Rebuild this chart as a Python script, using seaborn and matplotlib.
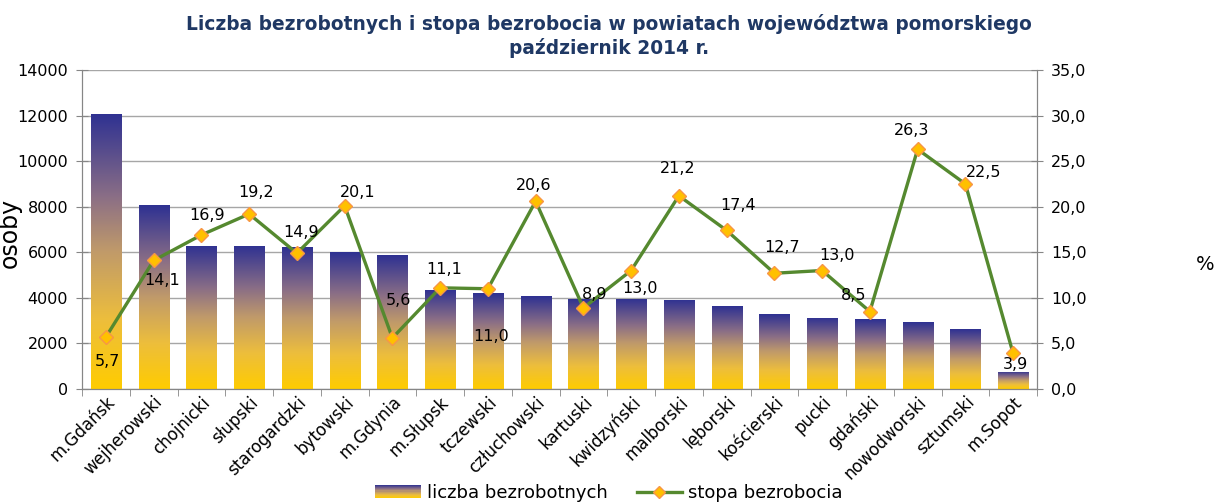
import numpy as np
import matplotlib
matplotlib.use("Agg")
import matplotlib.pyplot as plt
from matplotlib.colors import LinearSegmentedColormap
from matplotlib.patches import Rectangle
from matplotlib.lines import Line2D
from matplotlib.legend_handler import HandlerBase
from matplotlib.ticker import FuncFormatter, FixedLocator
import seaborn as sns

# data
districts = ["m.Gdańsk", "wejherowski", "chojnicki", "słupski", "starogardzki",
             "bytowski", "m.Gdynia", "m.Słupsk", "tczewski", "człuchowski",
             "kartuski", "kwidzyński", "malborski", "lęborski", "kościerski",
             "pucki", "gdański", "nowodworski", "sztumski", "m.Sopot"]
unemployed = [12070, 8060, 6280, 6280, 6220, 6000, 5870, 4350, 4200, 4070,
              3960, 3960, 3910, 3640, 3290, 3120, 3070, 2940, 2630, 750]
rates = [5.7, 14.1, 16.9, 19.2, 14.9, 20.1, 5.6, 11.1, 11.0, 20.6,
         8.9, 13.0, 21.2, 17.4, 12.7, 13.0, 8.5, 26.3, 22.5, 3.9]

# label offsets in pixels (dx, dy up)
label_offsets = [(2, -24), (9, -20), (6, 19), (7, 22), (4, 21), (13, 13), (6, 37),
                 (4, 18), (3, -48), (-2, 16), (11, 13), (9, -18), (-1, 27), (11, 25),
                 (8, 26), (15, 15), (-16, 16), (-6, 19), (18, 11), (2, -11)]

plt.rcParams['font.family'] = ['DejaVu Sans']

grad_cmap = LinearSegmentedColormap.from_list(
    "bars", [(0.0, "#FFCC00"), (0.25, "#EDBE3C"), (0.5, "#C09A6A"),
             (0.7, "#8A6E86"), (1.0, "#2E3192")])
line_color = "#55892F"
grid_color = "#A6A6A6"
spine_color = "#868686"

fig, ax = plt.subplots(figsize=(12.18, 5.03), dpi=100)
fig.subplots_adjust(left=82 / 1218, right=1037 / 1218, top=1 - 70 / 503, bottom=1 - 389 / 503)

sns.barplot(x=districts, y=unemployed, ax=ax, width=0.63, color="#FFCC00")

# gradient fill for each bar
grad = np.linspace(0, 1, 256).reshape(-1, 1)
for p in list(ax.patches):
    x0, y0 = p.get_x(), p.get_y()
    w, h = p.get_width(), p.get_height()
    im = ax.imshow(grad, cmap=grad_cmap, origin="lower", aspect="auto",
                   extent=(x0, x0 + w, y0, y0 + h), zorder=2)
    im.set_clip_path(p)
    p.set_facecolor("none")
    p.set_edgecolor("none")

ax.set_xlim(-0.5, len(districts) - 0.5)
ax.set_ylim(0, 14000)
ax.set_yticks(range(0, 14001, 2000))
ax.yaxis.grid(True, color=grid_color, linewidth=1)
ax.set_axisbelow(True)
ax.set_ylabel("osoby", fontsize=17)
ax.yaxis.set_label_coords(-0.063, 0.49)
ax.tick_params(axis="y", labelsize=11.5, direction="inout", length=8, color=spine_color, pad=6)

ax.set_xticks(range(len(districts)))
ax.set_xticklabels(districts, rotation=45, ha="right", va="top", rotation_mode="anchor", fontsize=12)
ax.tick_params(axis="x", which="major", length=0, pad=3)
ax.xaxis.set_minor_locator(FixedLocator(np.arange(-0.5, len(districts), 1)))
ax.tick_params(axis="x", which="minor", length=5, color=spine_color)

ax.spines["top"].set_visible(False)
for s in ["left", "bottom", "right"]:
    ax.spines[s].set_color(spine_color)

ax2 = ax.twinx()
sns.pointplot(x=districts, y=rates, ax=ax2, color=line_color, markers="D",
              linestyles="-", errorbar=None, markersize=7, linewidth=2.4)
for ln in ax2.lines:
    ln.set_markerfacecolor("#FFC000")
    ln.set_markeredgecolor("#F79646")
    ln.set_markeredgewidth(1)
ax2.set_xlim(-0.5, len(districts) - 0.5)
ax2.set_ylim(0, 35)
ax2.set_yticks(range(0, 36, 5))
ax2.yaxis.set_major_formatter(FuncFormatter(lambda v, _: f"{v:.1f}".replace(".", ",")))
ax2.tick_params(axis="y", labelsize=11.5, direction="inout", length=8, color=spine_color, pad=6)
ax2.set_ylabel("%", fontsize=14, rotation=0)
ax2.yaxis.set_label_coords(1.176, 0.42)
ax2.spines["top"].set_visible(False)
for s in ["left", "bottom", "right"]:
    ax2.spines[s].set_color(spine_color)

for i, (v, (dx, dy)) in enumerate(zip(rates, label_offsets)):
    ax2.annotate(f"{v:.1f}".replace(".", ","), (i, v), xytext=(dx, dy),
                 textcoords="offset pixels", ha="center", va="center", fontsize=11.5)

fig.suptitle("Liczba bezrobotnych i stopa bezrobocia w powiatach województwa pomorskiego\npaździernik 2014 r.",
             x=0.5, y=0.973, fontsize=13.4, fontweight="bold", color="#1F3864", linespacing=1.25)


class GradientHandler(HandlerBase):
    def create_artists(self, legend, orig_handle, xdescent, ydescent, width, height, fontsize, trans):
        n = 12
        arts = []
        for k in range(n):
            r = Rectangle((-xdescent, -ydescent + height * k / n), width, height / n + 0.2,
                          facecolor=grad_cmap((k + 0.5) / n), edgecolor="none", transform=trans)
            arts.append(r)
        return arts


bar_handle = Rectangle((0, 0), 1, 1)
line_handle = Line2D([], [], color=line_color, linewidth=2.4, marker="D", markersize=6,
                     markerfacecolor="#FFC000", markeredgecolor="#F79646")
fig.legend([bar_handle, line_handle], ["liczba bezrobotnych", "stopa bezrobocia"],
           handler_map={Rectangle: GradientHandler()}, loc="lower center",
           bbox_to_anchor=(0.5, -0.03), ncol=2, frameon=False, fontsize=13,
           handlelength=2.5, columnspacing=1.6, handletextpad=0.35)

fig.savefig("out.png", dpi=100)
